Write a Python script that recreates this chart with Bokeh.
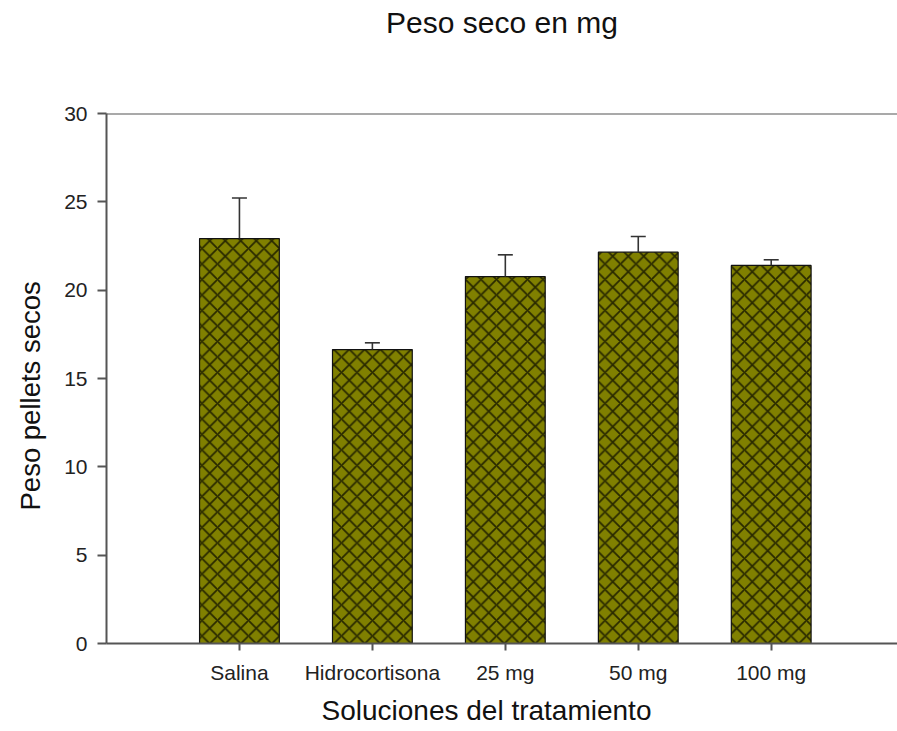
from bokeh.plotting import figure
from bokeh.models import (ColumnDataSource, Range1d, FixedTicker, Whisker, TeeHead,
                          Span, Title)
from bokeh.embed import file_html
from bokeh.resources import INLINE

# Dry pellet weight per treatment (mean and upper error)
categories = ["Salina", "Hidrocortisona", "25 mg", "50 mg", "100 mg"]
means = [22.92, 16.64, 20.77, 22.15, 21.4]
errors = [2.3, 0.38, 1.23, 0.89, 0.32]
y_ticks = [0, 5, 10, 15, 20, 25, 30]

positions = list(range(1, len(categories) + 1))
source = ColumnDataSource(dict(
    x=positions,
    top=means,
    upper=[m + e for m, e in zip(means, errors)],
))

FONT = "Liberation Sans"

p = figure(width=897, height=731, output_backend="svg", toolbar_location=None,
           x_range=Range1d(0, 5.95), y_range=Range1d(0, 30),
           min_border_left=106, min_border_right=0, min_border_top=113,
           min_border_bottom=88, outline_line_color=None, title_location=None)

p.grid.visible = False
p.background_fill_color = "white"
p.border_fill_color = "white"

p.vbar(x="x", top="top", width=0.6, source=source,
       fill_color="#808000", line_color="#111111", line_width=1.2,
       hatch_pattern="diagonal_cross", hatch_scale=15.5,
       hatch_color="#1a1a00", hatch_weight=1.8, hatch_alpha=0.85)

p.add_layout(Whisker(source=source, base="x", lower="top", upper="upper",
                     lower_head=None,
                     upper_head=TeeHead(size=15, line_color="#333333", line_width=1.6),
                     line_color="#333333", line_width=1.6, level="overlay"))

# top border line of the plotting area
p.add_layout(Span(location=30, dimension="width", line_color="#555555", line_width=2))

# x axis: category names at bar centres
p.xaxis.ticker = FixedTicker(ticks=positions)
p.xaxis.major_label_overrides = {pos: name for pos, name in zip(positions, categories)}
p.xaxis.minor_tick_line_color = None
p.xaxis.major_tick_in = 0
p.xaxis.major_tick_out = 7
p.xaxis.major_label_standoff = 10

# y axis
p.yaxis.ticker = FixedTicker(ticks=y_ticks)
p.yaxis.minor_tick_line_color = None
p.yaxis.major_tick_in = 0
p.yaxis.major_tick_out = 9
p.yaxis.major_label_standoff = 10

for ax in (p.xaxis, p.yaxis):
    ax.axis_line_color = "#555555"
    ax.axis_line_width = 2
    ax.major_tick_line_color = "#555555"
    ax.major_tick_line_width = 2
    ax.major_label_text_font = FONT
    ax.major_label_text_font_size = "21px"
    ax.major_label_text_color = "#222222"

title_style = dict(text_font=FONT, text_color="#111111", text_font_style="normal")

# blank band between the title and the plotting area
p.add_layout(Title(text="\u00a0", text_font_size="10px", standoff=62, **title_style), "above")
p.add_layout(Title(text="Peso seco en mg", align="center", standoff=0,
                   text_font_size="30px", **title_style), "above")

# axis titles
p.add_layout(Title(text="Soluciones del tratamiento", align="left", offset=215,
                   standoff=12, text_font_size="28px", **title_style), "below")
p.add_layout(Title(text="Peso pellets secos", align="left", offset=133,
                   standoff=28, vertical_align="top",
                   text_font_size="27.5px", **title_style), "left")

open("out.html", "w").write(file_html(p, INLINE))
